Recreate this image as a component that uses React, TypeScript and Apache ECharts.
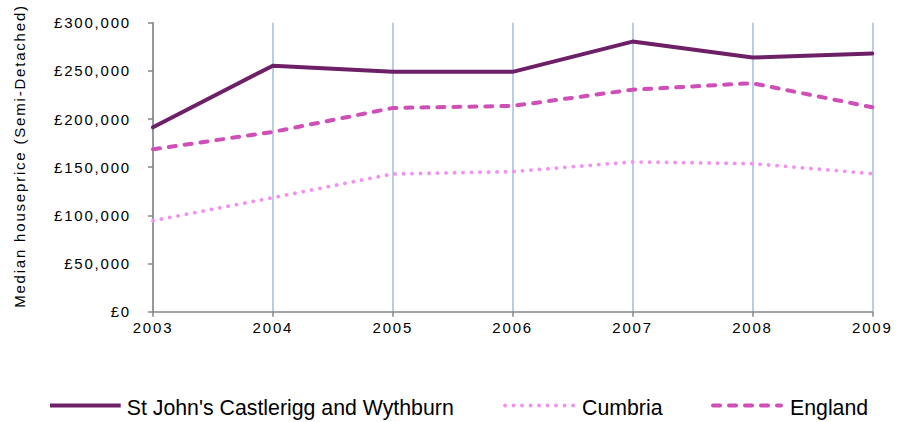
import React, { useEffect, useRef } from "react";
import * as echarts from "echarts";

const years = ["2003", "2004", "2005", "2006", "2007", "2008", "2009"];
const stJohns = [191500, 255400, 249000, 249000, 280400, 263800, 268000];
const cumbria = [94500, 118400, 143000, 145400, 155500, 153700, 143300];
const england = [168600, 186600, 211500, 213600, 230500, 237200, 212200];
const seriesNames = ["St John's Castlerigg and Wythburn", "Cumbria", "England"];
const yTitle = "Median houseprice (Semi-Detached)";

const AXIS_FONT = "'Liberation Sans', Helvetica, sans-serif";
const LEGEND_FONT = "'Liberation Sans', sans-serif";

const COLORS = ["#6E2067", "#F590F0", "#CF4FB7"];
const DASH_CUMBRIA = [0.1, 8.4];
const DASH_ENGLAND = [7, 9];

export default function App() {
  const ref = useRef<HTMLDivElement>(null);
  useEffect(() => {
    if (!ref.current) return;
    const chart = echarts.init(ref.current, undefined, { renderer: "svg" });

    const legendItems = [
      { name: seriesNames[0], x1: 50, x2: 120.7, tx: 126.7, color: COLORS[0], dash: undefined as number[] | undefined, w: 4 },
      { name: seriesNames[1], x1: 505, x2: 573.3, tx: 582, color: COLORS[1], dash: DASH_CUMBRIA, w: 3.8 },
      { name: seriesNames[2], x1: 713, x2: 781, tx: 790, color: COLORS[2], dash: DASH_ENGLAND, w: 4 },
    ];
    const graphic: any[] = [];
    legendItems.forEach((it) => {
      graphic.push({
        type: "line",
        shape: { x1: it.x1, y1: 405.5, x2: it.x2, y2: 405.5 },
        style: { stroke: it.color, lineWidth: it.w, lineDash: it.dash, lineCap: it.dash ? "round" : "butt" },
        silent: true,
      });
      graphic.push({
        type: "text",
        x: it.tx,
        y: 408,
        style: {
          text: it.name,
          fontFamily: LEGEND_FONT,
          fontSize: 21.3,
          fill: "#000",
          verticalAlign: "middle",
          align: "left",
        },
        silent: true,
      });
    });
    graphic.push({
      type: "text",
      x: 19,
      y: 156,
      rotation: Math.PI / 2,
      style: {
        text: yTitle,
        fontFamily: AXIS_FONT,
        fontSize: 15,
        fill: "#000",
        align: "center",
        verticalAlign: "middle",
      },
      silent: true,
    });

    chart.setOption({
      animation: false,
      backgroundColor: "#fff",
      grid: { left: 153, right: 24.7, top: 22.7, bottom: 110.3 },
      graphic,
      xAxis: {
        type: "category",
        data: years,
        boundaryGap: false,
        axisLine: { lineStyle: { color: "#868686", width: 1.5 } },
        axisTick: { show: true, length: 5, lineStyle: { color: "#868686", width: 1.5 } },
        axisLabel: { fontFamily: AXIS_FONT, fontSize: 15, color: "#000", margin: 8 },
        splitLine: { show: true, lineStyle: { color: "#B9CDE5", width: 2 } },
      },
      yAxis: {
        type: "value",
        min: 0,
        max: 300000,
        interval: 50000,
        axisLine: { show: true, lineStyle: { color: "#868686", width: 1.5 } },
        axisTick: { show: true, length: 5, lineStyle: { color: "#868686", width: 1.5 } },
        axisLabel: {
          fontFamily: AXIS_FONT,
          fontSize: 15,
          color: "#000",
          margin: 22,
          formatter: (v: number) => "£" + v.toLocaleString("en-GB"),
        },
        splitLine: { show: false },
      },
      series: [
        {
          name: seriesNames[0],
          type: "line",
          data: stJohns,
          symbol: "none",
          z: 3,
          lineStyle: { color: COLORS[0], width: 4, cap: "round", join: "round" },
        },
        {
          name: seriesNames[1],
          type: "line",
          data: cumbria,
          symbol: "none",
          z: 2,
          lineStyle: { color: COLORS[1], width: 3.8, type: DASH_CUMBRIA, cap: "round", join: "round" },
        },
        {
          name: seriesNames[2],
          type: "line",
          data: england,
          symbol: "none",
          z: 2,
          lineStyle: { color: COLORS[2], width: 4, type: DASH_ENGLAND, cap: "round", join: "round" },
        },
      ],
    });
    return () => chart.dispose();
  }, []);
  return (
    <>
      <style>{`
        .chartbox text[style*="Helvetica"] { letter-spacing: 1.8px; }
      `}</style>
      <div
        className="chartbox"
        ref={ref}
        style={{ position: "fixed", left: 0, top: 0, width: 897, height: 422 }}
      />
    </>
  );
}
